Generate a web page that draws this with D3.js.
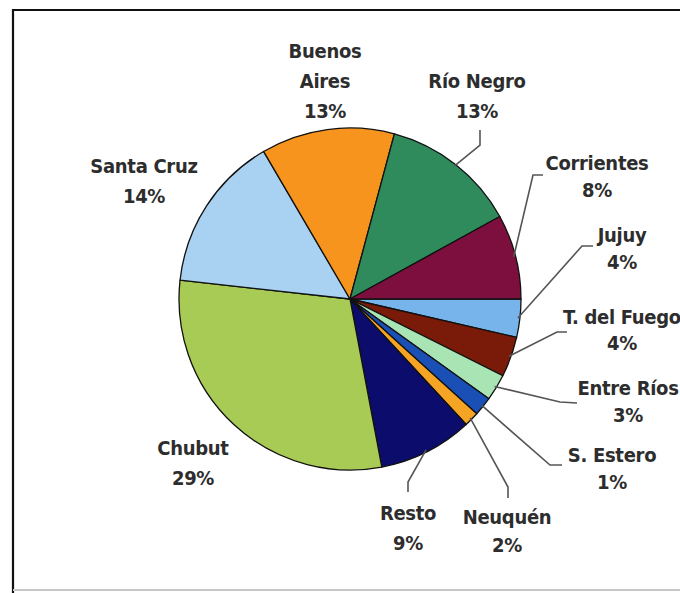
<!DOCTYPE html>
<html>
<head>
<meta charset="utf-8">
<script src="https://cdn.jsdelivr.net/npm/d3@7"></script>
<style>
    body { margin: 0; background: #fff; }
    svg { display: block; }
    .lbl { font-family: "DejaVu Sans Condensed", "DejaVu Sans", Verdana, sans-serif; font-stretch: condensed; font-weight: bold; font-size: 20px; fill: #2d2d2d; letter-spacing: -0.3px; }
</style>
</head>
<body>
<svg id="chart"></svg>
<script>
// slices clockwise from 3 o'clock
const provinces = ["Jujuy", "T. del Fuego", "Entre Ríos", "S. Estero", "Neuquén", "Resto", "Chubut", "Santa Cruz", "Buenos Aires", "Río Negro", "Corrientes"];
const shares = [3.6, 3.8, 2.5, 1.8, 1.4, 8.9, 29.7, 14.8, 12.6, 12.8, 8.0];
const pctLabels = ["4%", "4%", "3%", "1%", "2%", "9%", "29%", "14%", "13%", "13%", "8%"];
const colors = ["#78b4ec", "#7a1a08", "#a8e4b4", "#1a4fb6", "#f6a423", "#0c0c6c", "#a8cb55", "#a9d1f1", "#f7941d", "#2f8a5c", "#7d0f3f"];

class PieChart {
    center = { x: 350, y: 299 }
    radius = 171

    constructor(svg, width = 680, height = 593) {
        this.svg = d3.select(svg);
        this.width = width;
        this.height = height;

        // label placement (first-line baseline) and leader line ends
        this.layout = {
            "Buenos Aires": { x: 325, y: 58, lines: ["Buenos", "Aires"] },
            "Río Negro": { x: 477, y: 88, lead: [[480, 130], [480, 145]] },
            "Santa Cruz": { x: 144, y: 173 },
            "Corrientes": { x: 597, y: 170, dy: 27, lead: [[543, 175], [533, 175]] },
            "Jujuy": { x: 622, y: 242, dy: 27, lead: [[593, 246], [582, 246]] },
            "T. del Fuego": { x: 622, y: 324, dy: 26, lead: [[567, 332], [557, 332]] },
            "Entre Ríos": { x: 628, y: 395, dy: 27, lead: [[577, 403], [560, 402]] },
            "S. Estero": { x: 612, y: 462, dy: 27, lead: [[562, 465], [550, 465]] },
            "Neuquén": { x: 507, y: 524, dy: 28, lead: [[508, 498], [508, 487]] },
            "Resto": { x: 408, y: 520, dy: 30, lead: [[408, 492], [408, 482]] },
            "Chubut": { x: 193, y: 455 }
        };
    }

    initialize() {
        this.svg.attr("width", this.width).attr("height", this.height);

        // frame
        this.svg.append("path")
            .attr("d", `M13,${this.height} L13,10 L${this.width + 5},10`)
            .attr("fill", "none")
            .attr("stroke", "#111")
            .attr("stroke-width", 2.2);
        this.svg.append("line")
            .attr("x1", 13).attr("x2", this.width)
            .attr("y1", 590).attr("y2", 590)
            .attr("stroke", "#c8c8c8")
            .attr("stroke-width", 2);

        this.container = this.svg.append("g")
            .attr("transform", `translate(${this.center.x}, ${this.center.y})`);
        this.leaders = this.svg.append("g");
        this.labels = this.svg.append("g");
    }

    update() {
        const data = provinces.map((p, i) => ({ name: p, value: shares[i], pct: pctLabels[i], color: colors[i] }));

        const pie = d3.pie()
            .sort(null)
            .value(d => d.value)
            .startAngle(Math.PI / 2)
            .endAngle(Math.PI / 2 + 2 * Math.PI);

        const arc = d3.arc().innerRadius(0).outerRadius(this.radius);
        const edge = d3.arc().innerRadius(this.radius - 2).outerRadius(this.radius - 2);

        const arcs = pie(data);

        this.container.selectAll("path")
            .data(arcs)
            .join("path")
            .attr("d", arc)
            .attr("fill", d => d.data.color)
            .attr("stroke", "#111")
            .attr("stroke-width", 1.3)
            .attr("stroke-linejoin", "round");

        const line = d3.line();

        this.leaders.selectAll("path")
            .data(arcs.filter(d => this.layout[d.data.name].lead))
            .join("path")
            .attr("d", d => {
                const [ex, ey] = edge.centroid(d);
                const pts = this.layout[d.data.name].lead.concat([[ex + this.center.x, ey + this.center.y]]);
                return line(pts);
            })
            .attr("fill", "none")
            .attr("stroke", "#555")
            .attr("stroke-width", 1.6);

        const texts = this.labels.selectAll("text")
            .data(arcs)
            .join("text")
            .attr("class", "lbl")
            .attr("text-anchor", "middle")
            .attr("x", d => this.layout[d.data.name].x)
            .attr("y", d => this.layout[d.data.name].y);

        texts.each((d, i, nodes) => {
            const L = this.layout[d.data.name];
            const lines = (L.lines || [d.data.name]).concat([d.data.pct]);
            d3.select(nodes[i]).selectAll("tspan")
                .data(lines)
                .join("tspan")
                .attr("x", L.x)
                .attr("dy", (t, j) => j === 0 ? 0 : (L.dy || 30))
                .text(t => t);
        });
    }
}

const chart = new PieChart(document.getElementById("chart"));
chart.initialize();
chart.update();
</script>
</body>
</html>
